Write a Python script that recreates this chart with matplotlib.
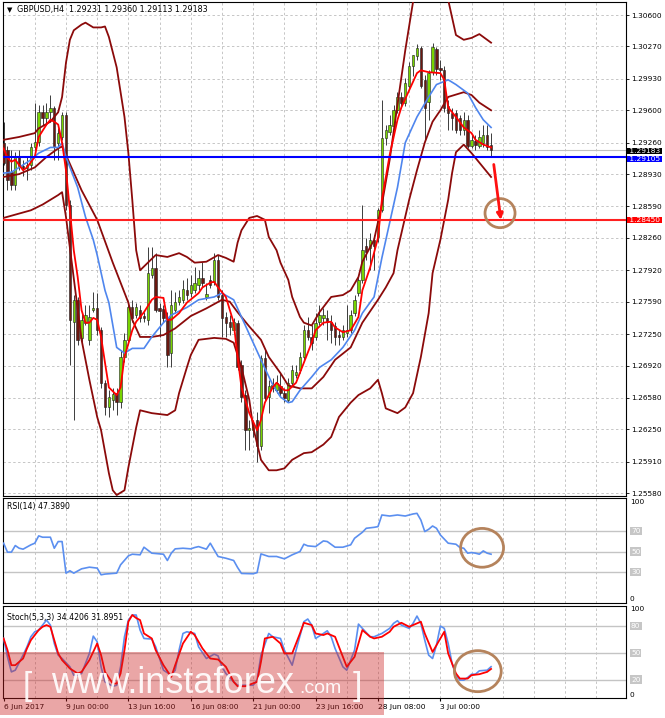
import matplotlib.pyplot as plt
from matplotlib.patches import Ellipse, Rectangle
from matplotlib.transforms import ScaledTranslation

# GBPUSD H4 candles, bar 0 = 6 Jun 2017
opens = [1.2926, 1.2918, 1.2895, 1.2882, 1.2911, 1.2901, 1.2899, 1.2903, 1.2921, 1.2927,
         1.2958, 1.2952, 1.2958, 1.2962, 1.2926, 1.2932, 1.2955, 1.2861, 1.2738, 1.2761,
         1.2721, 1.2737, 1.2719, 1.2750, 1.2752, 1.2729, 1.2674, 1.2648, 1.2656, 1.2663,
         1.2654, 1.2701, 1.2719, 1.2753, 1.2745, 1.2750, 1.2744, 1.2740, 1.2787, 1.2794,
         1.2752, 1.2751, 1.2743, 1.2705, 1.2750, 1.2759, 1.2761, 1.2771, 1.2768, 1.2771,
         1.2777, 1.2784, 1.2764, 1.2782, 1.2780, 1.2803, 1.2766, 1.2743, 1.2738, 1.2729,
         1.2737, 1.2693, 1.2661, 1.2624, 1.2624, 1.2635, 1.2607, 1.2700, 1.2659, 1.2672,
         1.2666, 1.2670, 1.2663, 1.2656, 1.2674, 1.2682, 1.2687, 1.2701, 1.2729, 1.2722,
         1.2722, 1.2738, 1.2742, 1.2742, 1.2738, 1.2733, 1.2724, 1.2722, 1.2726, 1.2729,
         1.2747, 1.2768, 1.2782, 1.2818, 1.2815, 1.2824, 1.2827, 1.2855, 1.2931, 1.2937,
         1.2943, 1.2960, 1.2974, 1.2968, 1.2986, 1.3007, 1.3017, 1.3025, 1.2992, 1.2969,
         1.3000, 1.3024, 1.3004, 1.3002, 1.2964, 1.2957, 1.2957, 1.2952, 1.2939, 1.2950,
         1.2923, 1.2928, 1.2923, 1.2926, 1.2934, 1.29231]
highs = [1.2948, 1.2923, 1.2918, 1.2916, 1.2918, 1.2908, 1.2911, 1.2926, 1.2968, 1.2966,
         1.2966, 1.2968, 1.2976, 1.2964, 1.2941, 1.2958, 1.2958, 1.2866, 1.2766, 1.2764,
         1.2748, 1.2756, 1.2756, 1.2769, 1.2768, 1.2732, 1.2677, 1.2666, 1.2668, 1.2668,
         1.2708, 1.2726, 1.2756, 1.2761, 1.2758, 1.2756, 1.2748, 1.2816, 1.2816, 1.2810,
         1.2758, 1.2756, 1.2748, 1.2771, 1.2769, 1.2771, 1.2782, 1.2784, 1.2787, 1.2795,
         1.2792, 1.2801, 1.2779, 1.2787, 1.2810, 1.2808, 1.2771, 1.2748, 1.2745, 1.2742,
         1.2740, 1.2698, 1.2666, 1.2635, 1.2635, 1.2643, 1.2703, 1.2708, 1.2677, 1.2679,
         1.2682, 1.2685, 1.2668, 1.2679, 1.2693, 1.2693, 1.2706, 1.2735, 1.2743, 1.2735,
         1.2747, 1.2756, 1.2752, 1.2750, 1.2745, 1.2738, 1.2729, 1.2735, 1.2756, 1.2750,
         1.2766, 1.2787, 1.2861, 1.2826, 1.2831, 1.2829, 1.2857, 1.2971, 1.2945, 1.2955,
         1.2966, 1.2979, 1.2979, 1.2994, 1.3011, 1.3018, 1.3030, 1.3028, 1.2997, 1.3002,
         1.3031, 1.3026, 1.3013, 1.3007, 1.2971, 1.2962, 1.2960, 1.2955, 1.2958, 1.2955,
         1.2934, 1.2934, 1.2939, 1.2945, 1.2945, 1.29360]
lows = [1.2903, 1.2876, 1.2876, 1.2876, 1.2897, 1.2891, 1.2887, 1.2897, 1.2918, 1.2923,
        1.2945, 1.2945, 1.2948, 1.2908, 1.2908, 1.2929, 1.2855, 1.2693, 1.2635, 1.2714,
        1.2714, 1.2735, 1.2714, 1.2748, 1.2724, 1.2668, 1.2640, 1.2638, 1.2645, 1.2640,
        1.2647, 1.2696, 1.2717, 1.2738, 1.2742, 1.2738, 1.2738, 1.2735, 1.2784, 1.2748,
        1.2722, 1.2738, 1.2690, 1.2690, 1.2747, 1.2756, 1.2758, 1.2761, 1.2764, 1.2768,
        1.2771, 1.2774, 1.2761, 1.2773, 1.2777, 1.2761, 1.2722, 1.2722, 1.2724, 1.2726,
        1.2687, 1.2654, 1.2603, 1.2603, 1.2617, 1.2591, 1.2603, 1.2656, 1.2642, 1.2664,
        1.2663, 1.2660, 1.2654, 1.2654, 1.2670, 1.2679, 1.2684, 1.2698, 1.2719, 1.2708,
        1.2719, 1.2735, 1.2735, 1.2719, 1.2716, 1.2714, 1.2714, 1.2719, 1.2722, 1.2726,
        1.2744, 1.2765, 1.2779, 1.2803, 1.2792, 1.2792, 1.2822, 1.2853, 1.2924, 1.2934,
        1.2939, 1.2957, 1.2962, 1.2965, 1.2983, 1.2996, 1.3013, 1.2983, 1.2929, 1.2950,
        1.2997, 1.2997, 1.2992, 1.2958, 1.2939, 1.2939, 1.2936, 1.2934, 1.2934, 1.2920,
        1.2920, 1.2918, 1.2920, 1.2921, 1.2918, 1.29113]
closes = [1.2905, 1.2887, 1.2882, 1.2911, 1.2901, 1.2899, 1.2903, 1.2921, 1.2927, 1.2958,
          1.2952, 1.2958, 1.2962, 1.2921, 1.2936, 1.2955, 1.2861, 1.2740, 1.2761, 1.2719,
          1.2740, 1.2745, 1.2743, 1.2752, 1.2729, 1.2674, 1.2648, 1.2659, 1.2662, 1.2654,
          1.2701, 1.2719, 1.2753, 1.2742, 1.2753, 1.2742, 1.2742, 1.2789, 1.2794, 1.2750,
          1.2749, 1.2742, 1.2703, 1.2756, 1.2759, 1.2764, 1.2772, 1.2766, 1.2777, 1.2779,
          1.2784, 1.2779, 1.2767, 1.2777, 1.2803, 1.2764, 1.2742, 1.2737, 1.2732, 1.2738,
          1.2690, 1.2659, 1.2624, 1.2626, 1.2629, 1.2607, 1.2700, 1.2658, 1.2670, 1.2668,
          1.2674, 1.2663, 1.2658, 1.2674, 1.2687, 1.2685, 1.2701, 1.2729, 1.2722, 1.2716,
          1.2737, 1.2745, 1.2745, 1.2738, 1.2729, 1.2722, 1.2722, 1.2729, 1.2729, 1.2745,
          1.2761, 1.2782, 1.2813, 1.2811, 1.2824, 1.2817, 1.2855, 1.2931, 1.2939, 1.2945,
          1.2960, 1.2974, 1.2968, 1.2989, 1.3007, 1.3018, 1.3025, 1.2986, 1.2962, 1.2999,
          1.3026, 1.3003, 1.3002, 1.2962, 1.2957, 1.2952, 1.2939, 1.2939, 1.2950, 1.2923,
          1.2929, 1.2924, 1.2932, 1.2934, 1.2921, 1.29183]

# moving averages read at key bars
ma_fast_bars = [0, 1, 2, 3, 5, 6, 8, 9, 11, 12, 13, 14, 15, 16, 17, 18, 19, 20, 21, 22,
                23, 24, 25, 26, 27, 29, 30, 31, 33, 34, 36, 38, 39, 41, 42, 43, 45, 47, 50, 51,
                53, 54, 55, 57, 59, 60, 61, 63, 65, 66, 67, 69, 70, 72, 73, 75, 77, 79, 80, 82,
                84, 85, 87, 89, 91, 92, 94, 96, 97, 99, 101, 102, 104, 106, 107, 109, 112, 113, 114, 116,
                118, 120, 121, 123, 125]
ma_fast = [1.2920, 1.2910, 1.2906, 1.2908, 1.2897, 1.2900, 1.2911, 1.2932, 1.2945, 1.2950,
           1.2948, 1.2945, 1.2926, 1.2897, 1.2855, 1.2813, 1.2785, 1.2750, 1.2737, 1.2737,
           1.2742, 1.2740, 1.2722, 1.2695, 1.2669, 1.2661, 1.2669, 1.2701, 1.2729, 1.2738,
           1.2748, 1.2761, 1.2764, 1.2763, 1.2740, 1.2740, 1.2747, 1.2758, 1.2768, 1.2774,
           1.2779, 1.2780, 1.2774, 1.2764, 1.2737, 1.2701, 1.2669, 1.2642, 1.2624, 1.2635,
           1.2653, 1.2669, 1.2674, 1.2666, 1.2666, 1.2674, 1.2695, 1.2716, 1.2729, 1.2737,
           1.2738, 1.2732, 1.2727, 1.2729, 1.2743, 1.2771, 1.2795, 1.2826, 1.2866, 1.2913,
           1.2950, 1.2963, 1.2981, 1.2999, 1.3002, 1.3000, 1.2999, 1.2992, 1.2963, 1.2953,
           1.2942, 1.2936, 1.2929, 1.2924, 1.2921]
ma_slow_bars = [0, 2, 4, 7, 9, 12, 14, 15, 16, 19, 21, 23, 24, 26, 27, 29, 31, 33, 36, 38,
                41, 43, 47, 50, 54, 56, 59, 61, 64, 67, 69, 71, 73, 74, 76, 79, 81, 84, 87, 90,
                92, 95, 97, 101, 103, 106, 109, 111, 114, 116, 119, 121, 123, 125]
ma_slow = [1.2894, 1.2895, 1.2900, 1.2908, 1.2915, 1.2921, 1.2921, 1.2926, 1.2911, 1.2879,
           1.2848, 1.2824, 1.2808, 1.2771, 1.2758, 1.2711, 1.2705, 1.2710, 1.2710, 1.2722,
           1.2737, 1.2745, 1.2753, 1.2761, 1.2764, 1.2768, 1.2761, 1.2743, 1.2716, 1.2689,
           1.2672, 1.2659, 1.2653, 1.2654, 1.2666, 1.2680, 1.2690, 1.2698, 1.2711, 1.2729,
           1.2747, 1.2764, 1.2805, 1.2879, 1.2926, 1.2953, 1.2974, 1.2987, 1.2992, 1.2987,
           1.2978, 1.2963, 1.2950, 1.2942]

# Bollinger bands read at key bars
bb_up_bars = [0, 4, 8, 9, 12, 14, 15, 16, 17, 18, 20, 21, 23, 25, 26, 27, 29, 31, 32, 33,
              34, 35, 37, 39, 42, 45, 47, 49, 52, 55, 57, 59, 60, 61, 63, 65, 67, 68, 70, 71,
              73, 74, 76, 77, 79, 81, 84, 87, 89, 91, 92, 95, 97, 99, 101, 103, 105, 107, 110, 112,
              114, 116, 118, 120, 122, 125]
bb_up = [1.2929, 1.2932, 1.2936, 1.2941, 1.2948, 1.2958, 1.2974, 1.3010, 1.3034, 1.3044,
         1.3050, 1.3052, 1.3047, 1.3047, 1.3048, 1.3037, 1.3005, 1.2953, 1.2915, 1.2866,
         1.2813, 1.2792, 1.2800, 1.2808, 1.2806, 1.2810, 1.2806, 1.2800, 1.2801, 1.2808,
         1.2805, 1.2801, 1.2821, 1.2834, 1.2847, 1.2849, 1.2845, 1.2827, 1.2813, 1.2800,
         1.2782, 1.2764, 1.2743, 1.2737, 1.2734, 1.2748, 1.2764, 1.2766, 1.2771, 1.2785,
         1.2801, 1.2824, 1.2861, 1.2908, 1.2966, 1.3023, 1.3074, 1.3107, 1.3123, 1.3113,
         1.3076, 1.3039, 1.3034, 1.3036, 1.3040, 1.3031]
bb_mid_bars = [0, 4, 8, 11, 14, 15, 16, 20, 24, 28, 32, 33, 35, 38, 41, 44, 48, 52, 56, 58,
               60, 63, 66, 68, 71, 73, 76, 79, 82, 85, 89, 92, 96, 98, 100, 101, 104, 106, 108, 110,
               112, 114, 118, 120, 122, 125]
bb_mid = [1.2890, 1.2893, 1.2900, 1.2911, 1.2920, 1.2922, 1.2913, 1.2876, 1.2845, 1.2800,
          1.2758, 1.2740, 1.2722, 1.2722, 1.2724, 1.2731, 1.2744, 1.2752, 1.2761, 1.2759,
          1.2748, 1.2733, 1.2719, 1.2701, 1.2684, 1.2671, 1.2668, 1.2668, 1.2680, 1.2698,
          1.2711, 1.2737, 1.2761, 1.2774, 1.2789, 1.2813, 1.2866, 1.2897, 1.2926, 1.2948,
          1.2960, 1.2974, 1.2979, 1.2976, 1.2968, 1.2960]
bb_lo_bars = [0, 7, 10, 12, 14, 15, 16, 20, 22, 24, 25, 27, 28, 29, 31, 32, 34, 35, 38, 42,
              44, 45, 47, 48, 50, 54, 57, 59, 61, 63, 64, 66, 68, 70, 72, 74, 77, 79, 82, 84,
              86, 89, 91, 94, 96, 97, 98, 101, 103, 105, 107, 109, 110, 112, 114, 115, 116, 118, 120, 123,
              125]
bb_lo = [1.2847, 1.2855, 1.2861, 1.2866, 1.2871, 1.2874, 1.2848, 1.2719, 1.2677, 1.2638,
         1.2624, 1.2579, 1.2561, 1.2556, 1.2561, 1.2585, 1.2627, 1.2645, 1.2642, 1.2640,
         1.2645, 1.2663, 1.2690, 1.2703, 1.2719, 1.2721, 1.2720, 1.2716, 1.2690, 1.2656,
         1.2627, 1.2593, 1.2582, 1.2582, 1.2584, 1.2593, 1.2600, 1.2601, 1.2609, 1.2617,
         1.2638, 1.2653, 1.2661, 1.2668, 1.2677, 1.2663, 1.2647, 1.2642, 1.2648, 1.2663,
         1.2701, 1.2747, 1.2789, 1.2824, 1.2866, 1.2894, 1.2916, 1.2924, 1.2915, 1.2900,
         1.2890]

# RSI(14)
rsi_bars = [0, 1, 2, 3, 4, 5, 7, 8, 9, 10, 12, 13, 14, 15, 16, 17, 18, 20, 22, 24,
            25, 26, 27, 29, 30, 32, 33, 35, 36, 38, 41, 42, 43, 44, 46, 48, 49, 50, 52, 53,
            54, 55, 57, 59, 60, 61, 64, 65, 66, 68, 70, 72, 74, 76, 77, 78, 80, 82, 83, 85,
            87, 89, 90, 92, 93, 95, 96, 97, 99, 101, 103, 105, 106, 107, 108, 109, 110, 111, 112, 114,
            116, 117, 118, 119, 120, 121, 122, 123, 124, 125]
rsi_vals = [58.1, 49.4, 49.4, 55.8, 53.2, 52.3, 56.5, 58.1, 65.2, 63.9, 63.9, 53.2, 59.7, 59.7, 29.0, 31.3, 29.0, 33.2, 34.8, 33.9,
            27.4, 28.1, 28.4, 29.0, 37.1, 45.8, 47.4, 46.8, 54.2, 48.4, 47.4, 41.3, 48.4, 52.6, 53.2, 52.6, 53.9, 54.8, 52.3, 58.1,
            51.6, 45.2, 43.5, 41.3, 34.5, 28.7, 28.4, 29.5, 47.7, 45.2, 45.2, 42.9, 46.8, 50.0, 57.1, 55.5, 54.8, 60.3, 59.7, 54.2,
            54.2, 56.5, 62.9, 68.7, 72.6, 73.5, 74.2, 85.5, 84.5, 85.5, 84.5, 86.5, 87.1, 80.6, 69.4, 71.6, 74.8, 72.6, 66.1, 58.1,
            57.1, 53.9, 53.2, 48.4, 49.0, 48.4, 47.4, 50.6, 48.4, 47.4]

# Stochastic(5,3,3)
stk_bars = [0, 1, 2, 3, 5, 6, 7, 8, 9, 10, 11, 12, 13, 14, 15, 17, 18, 19, 20, 22,
            23, 24, 25, 26, 28, 29, 30, 31, 32, 33, 34, 35, 36, 38, 39, 40, 41, 43, 44, 45,
            46, 47, 49, 50, 52, 54, 55, 56, 57, 59, 60, 62, 64, 65, 66, 68, 69, 71, 72, 74,
            75, 77, 78, 79, 80, 82, 83, 84, 85, 87, 88, 90, 91, 92, 94, 95, 97, 99, 100, 101,
            102, 104, 105, 106, 107, 108, 109, 110, 111, 112, 113, 114, 115, 116, 117, 118, 119, 120, 121, 122,
            124, 125]
stk_main = [66.1, 45.5, 28.6, 30.5, 47.4, 56.7, 68.0, 73.6, 75.5, 81.1, 86.7, 81.1, 60.5, 47.4, 43.6, 34.3, 24.9, 24.9, 26.8, 49.3,
            68.7, 62.4, 34.3, 17.4, 12.5, 13.6, 34.3, 68.0, 86.7, 92.4, 92.4, 75.5, 66.1, 65.4, 56.7, 43.6, 30.5, 24.9, 30.5, 53.0,
            71.7, 73.6, 71.7, 56.7, 43.6, 48.5, 46.6, 34.3, 26.8, 17.4, 13.6, 13.6, 13.6, 19.3, 47.4, 71.7, 68.0, 66.1, 53.0, 36.1,
            53.0, 84.9, 87.9, 81.1, 66.1, 71.7, 74.7, 68.0, 54.9, 34.3, 30.5, 53.0, 82.2, 77.4, 68.0, 68.0, 71.7, 77.4, 83.0, 86.0,
            81.1, 77.4, 83.0, 91.2, 83.0, 64.2, 47.4, 43.6, 58.6, 80.0, 77.4, 60.5, 38.0, 24.9, 19.3, 19.3, 22.3, 26.0, 26.0, 29.8,
            30.5, 34.4]
std_bars = [0, 1, 2, 3, 5, 6, 7, 8, 9, 10, 11, 12, 13, 14, 15, 17, 19, 20, 22, 24,
            25, 26, 28, 29, 30, 31, 32, 33, 34, 35, 36, 38, 39, 41, 43, 44, 46, 48, 49, 51,
            53, 55, 57, 59, 60, 62, 65, 66, 67, 69, 71, 72, 74, 76, 77, 79, 80, 82, 83, 85,
            87, 88, 90, 92, 94, 95, 97, 99, 100, 102, 104, 105, 107, 108, 110, 112, 113, 114, 116, 117,
            119, 120, 122, 124, 125]
std_signal = [66.1, 53.0, 36.1, 36.1, 43.6, 54.9, 64.2, 69.9, 75.5, 79.2, 81.1, 79.2, 64.2, 49.3, 41.8, 32.4, 26.8, 28.6, 41.8, 60.5,
              47.4, 28.6, 15.5, 15.5, 26.8, 53.0, 84.9, 92.4, 89.0, 86.7, 71.7, 66.1, 53.0, 36.1, 23.0, 36.1, 60.5, 73.6, 69.9, 54.9,
              43.6, 42.5, 34.3, 17.4, 12.5, 12.5, 17.4, 39.9, 66.1, 68.0, 60.5, 49.3, 49.3, 71.7, 83.7, 81.1, 71.7, 69.9, 71.7, 68.0,
              45.5, 34.3, 45.5, 75.5, 68.0, 66.1, 68.0, 73.6, 79.2, 83.7, 79.2, 81.1, 84.9, 71.7, 50.9, 66.1, 73.6, 49.3, 26.8, 21.1,
              21.1, 24.9, 26.0, 28.6, 31.9]

price_ticks = [1.30600, 1.30270, 1.29930, 1.29600, 1.29260, 1.28930, 1.28590, 1.28260,
               1.27920, 1.27590, 1.27250, 1.26920, 1.26580, 1.26250, 1.25910, 1.25580]
date_bars = [0, 16, 32, 48, 64, 80, 96, 112]
date_labels = ['6 Jun 2017', '9 Jun 00:00', '13 Jun 16:00', '16 Jun 08:00',
               '21 Jun 00:00', '23 Jun 16:00', '28 Jun 08:00', '3 Jul 00:00']
support_line = 1.29105
target_line = 1.28450
last_price = 1.29183

W, H = 665, 718
fig = plt.figure(figsize=(W / 100, H / 100), dpi=100)


def panel(top, bottom):
    return fig.add_axes([3 / W, 1 - bottom / H, 623 / W, (bottom - top) / H])


ax = panel(2, 496)
ax2 = panel(498, 603)
ax3 = panel(606, 698)

grid_kw = dict(color='#c6c6c6', lw=0.7, ls=(0, (2.5, 2.5)), zorder=0)
lvl_kw = dict(color='#c4c4c4', lw=1.0, zorder=0)
x_lim = (-0.15, 159.6)
label_fs = 5.3

for a in (ax, ax2, ax3):
    a.set_xlim(*x_lim)
    for b in range(8, 153, 8):
        a.axvline(b, **grid_kw)
    for s in a.spines.values():
        s.set_color('black')
        s.set_linewidth(0.8)
    a.tick_params(axis='x', bottom=False, labelbottom=False)

# ---- main price panel
ax.set_ylim(1.25550, 1.30737)
for p in price_ticks:
    ax.axhline(p, **grid_kw)

ax.axhline(last_price, color='#c0c0c0', lw=0.8, zorder=1)

n = len(closes)
idx = list(range(n))
ax.vlines(idx, lows, highs, color='#3c3c3c', lw=0.7, zorder=2)
bottoms = [min(o, c) for o, c in zip(opens, closes)]
heights = [max(abs(c - o), 0.00008) for o, c in zip(opens, closes)]
colors = ['#78d400' if c >= o else '#6a1810' for o, c in zip(opens, closes)]
ax.bar(idx, heights, bottom=bottoms, width=0.62, color=colors,
       edgecolor='#1e1e1e', lw=0.4, zorder=3)

band_kw = dict(color='#8b0a0a', lw=1.3, zorder=4)
ax.plot(bb_up_bars, bb_up, **band_kw)
ax.plot(bb_mid_bars, bb_mid, **band_kw)
ax.plot(bb_lo_bars, bb_lo, **band_kw)
ax.plot(ma_slow_bars, ma_slow, color='#4f86ee', lw=1.2, zorder=5)
ax.plot(ma_fast_bars, ma_fast, color='#ff0000', lw=1.3, zorder=5)

ax.axhline(support_line, color='#0000ff', lw=1.5, zorder=6)
ax.axhline(target_line, color='#ff2020', lw=1.5, zorder=6)

ax.yaxis.tick_right()
ax.set_yticks(price_ticks)
ax.set_yticklabels([f'{p:.5f}' for p in price_ticks])
ax.tick_params(axis='y', labelsize=label_fs, length=2.5, width=0.6, pad=1.5)

# price boxes on the scale; the two close ones are stacked like in the terminal
for price, col, dy in [(last_price, 'black', -0.7), (support_line, '#0000ff', -1.9),
                       (target_line, '#ff0000', 0)]:
    tr = ax.get_yaxis_transform() + ScaledTranslation(0, dy / 100, fig.dpi_scale_trans)
    ax.text(1.0015, price, f' {price:.5f} ', transform=tr,
            ha='left', va='center', fontsize=label_fs, color='white', clip_on=False, zorder=7,
            bbox=dict(boxstyle='square,pad=0', fc=col, ec='none'))

ax.text(0.006, 0.984, '\u25bc', transform=ax.transAxes, fontsize=5, va='center')
ax.text(0.022, 0.984, 'GBPUSD,H4  1.29231 1.29360 1.29113 1.29183',
        transform=ax.transAxes, fontsize=5.8, va='center')

# analyst marks
ax.add_patch(Ellipse((127.3, 1.2852), 7.7, 0.00305, fill=False, ec='#b5835c', lw=2, zorder=8))
ax.annotate('', xy=(127.6, 1.2842), xytext=(125.6, 1.2906),
            arrowprops=dict(arrowstyle='-|>', color='#ff1010', lw=2, mutation_scale=9), zorder=8)


def level_labels(a, levels, top_label, bottom_label, lo, hi):
    tr = a.get_yaxis_transform()
    a.text(1.006, hi - 0.5, top_label, transform=tr, ha='left', va='top', fontsize=label_fs, clip_on=False)
    a.text(1.006, lo + 0.5, bottom_label, transform=tr, ha='left', va='bottom', fontsize=label_fs, clip_on=False)
    for v in levels:
        a.axhline(v, **lvl_kw)
        a.text(1.008, v, str(v), transform=tr, ha='left', va='center', fontsize=label_fs,
               color='white', clip_on=False,
               bbox=dict(boxstyle='square,pad=0.15', fc='#c6c6c6', ec='none'))
    a.set_yticks([])


# ---- RSI panel
ax2.set_ylim(0, 102)
level_labels(ax2, [70, 50, 30], '100', '0', 0, 102)
ax2.plot(rsi_bars, rsi_vals, color='#5b8ff0', lw=1.2, zorder=3)
ax2.text(0.006, 0.915, 'RSI(14) 47.3890', transform=ax2.transAxes, fontsize=5.6, va='center')
ax2.add_patch(Ellipse((122.7, 53.6), 11, 37.7, fill=False, ec='#b5835c', lw=2, zorder=5))

# ---- Stochastic panel
ax3.set_ylim(-0.7, 102.5)
level_labels(ax3, [80, 50, 20], '100', '0', -0.7, 102.5)
ax3.plot(stk_bars, stk_main, color='#5b8ff0', lw=1.2, zorder=3)
ax3.plot(std_bars, std_signal, color='#ff0000', lw=1.3, zorder=4)
ax3.text(0.006, 0.87, 'Stoch(5,3,3) 34.4206 31.8951', transform=ax3.transAxes, fontsize=5.6, va='center')
ax3.add_patch(Ellipse((121.6, 29.4), 12, 46, fill=False, ec='#b5835c', lw=2, zorder=5))

ax3.set_xticks(date_bars)
ax3.set_xticklabels(date_labels, ha='left')
ax3.tick_params(axis='x', bottom=True, labelbottom=True, labelsize=5.4, length=2, pad=2)

# ---- watermark
fig.add_artist(Rectangle((0, 3 / H), 384 / W, 63 / H, transform=fig.transFigure,
                         fc='#cc2222', ec='none', alpha=0.4, zorder=10))
wm = dict(color='white', family='Liberation Sans', va='baseline', alpha=0.92, zorder=11)
fig.text(23 / W, 1 - 695 / H, '[', fontsize=24, **wm)
fig.text(51 / W, 1 - 693 / H, 'www.instaforex', fontsize=26, **wm)
fig.text(299 / W, 1 - 693 / H, '.com', fontsize=14, **wm)
fig.text(353 / W, 1 - 695 / H, ']', fontsize=24, **wm)

fig.savefig('out.png', dpi=100)
